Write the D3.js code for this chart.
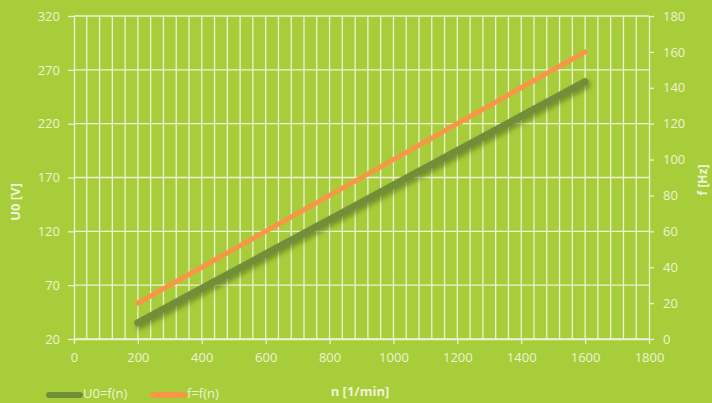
<!DOCTYPE html>
<html>
<head>
<meta charset="utf-8">
<script src="https://cdn.jsdelivr.net/npm/d3@7"></script>
<style>
html,body{margin:0;padding:0;background:#a8cd3a;}
svg{display:block;}
text{font-family:"Open Sans",sans-serif;fill:#eef3d6;}
</style>
</head>
<body>
<svg id="chart" width="712" height="403"></svg>
<script>
// Data
const speed = [200, 400, 600, 800, 1000, 1200, 1400, 1600];      // n [1/min]
const voltage = [35, 67, 99, 131, 163, 195, 227, 259];            // U0 [V]
const freq = [20, 40, 60, 80, 100, 120, 140, 160];                // f [Hz]
const xTicks = [0, 200, 400, 600, 800, 1000, 1200, 1400, 1600, 1800];
const yLeftTicks = [20, 70, 120, 170, 220, 270, 320];
const yRightTicks = [0, 20, 40, 60, 80, 100, 120, 140, 160, 180];
const seriesNames = ["U0=f(n)", "f=f(n)"];

const W = 712, H = 403;
const pL = 74, pR = 649, pT = 16, pB = 339;
const gridCol = "#eef2d4";
const greenCol = "#6f8f38", orangeCol = "#f79646";

const svg = d3.select("#chart");
svg.append("rect").attr("width", W).attr("height", H).attr("fill", "#a8cd3a");

const defs = svg.append("defs");
const flt = defs.append("filter").attr("id", "shadow").attr("x", "-10%").attr("y", "-10%").attr("width", "130%").attr("height", "130%");
flt.append("feDropShadow").attr("dx", 2).attr("dy", 3).attr("stdDeviation", 2.5).attr("flood-color", "#3d5a12").attr("flood-opacity", 0.55);

const x = d3.scaleLinear().domain([0, 1800]).range([pL, pR]);
const yL = d3.scaleLinear().domain([20, 320]).range([pB, pT]);
const yR = d3.scaleLinear().domain([0, 180]).range([pB, pT]);

// vertical minor gridlines every 40
const g = svg.append("g");
g.selectAll("line.v").data(d3.range(40, 1800, 40)).enter().append("line")
  .attr("x1", d => x(d)).attr("x2", d => x(d)).attr("y1", pT).attr("y2", pB)
  .attr("stroke", gridCol).attr("stroke-width", 1.3);
// horizontal gridlines
g.selectAll("line.h").data(yLeftTicks).enter().append("line")
  .attr("x1", pL).attr("x2", pR).attr("y1", d => yL(d)).attr("y2", d => yL(d))
  .attr("stroke", gridCol).attr("stroke-width", 1.3);

// Axes
const fmt = d3.format("d");
const axStyle = sel => {
  sel.select(".domain").attr("stroke", gridCol).attr("stroke-width", 1.3);
  sel.selectAll(".tick line").attr("stroke", gridCol).attr("stroke-width", 1.3);
  sel.selectAll(".tick text").attr("fill", "#eef3d6").style("font-family", "'Open Sans', sans-serif").style("font-size", "13px");
};
svg.append("g").attr("transform", `translate(0,${pB})`)
  .call(d3.axisBottom(x).tickValues(xTicks).tickFormat(fmt).tickSize(5).tickPadding(9).tickSizeOuter(0))
  .call(axStyle);
svg.append("g").attr("transform", `translate(${pL},0)`)
  .call(d3.axisLeft(yL).tickValues(yLeftTicks).tickFormat(fmt).tickSize(6).tickPadding(8).tickSizeOuter(0))
  .call(axStyle);
svg.append("g").attr("transform", `translate(${pR},0)`)
  .call(d3.axisRight(yR).tickValues(yRightTicks).tickFormat(fmt).tickSize(5).tickPadding(9).tickSizeOuter(0))
  .call(axStyle);

// Lines
const lineU = d3.line().x((d, i) => x(speed[i])).y(d => yL(d));
const lineF = d3.line().x((d, i) => x(speed[i])).y(d => yR(d));
svg.append("path").datum(voltage).attr("d", lineU).attr("fill", "none")
  .attr("stroke", greenCol).attr("stroke-width", 7).attr("stroke-linecap", "round")
  .attr("filter", "url(#shadow)");
svg.append("path").datum(freq).attr("d", lineF).attr("fill", "none")
  .attr("stroke", orangeCol).attr("stroke-width", 5).attr("stroke-linecap", "round");

// Axis titles
svg.append("text").attr("transform", `translate(20,202) rotate(-90)`)
  .attr("text-anchor", "middle").style("font-size", "13px").style("font-weight", "bold").text("U0 [V]");
svg.append("text").attr("transform", `translate(707,180) rotate(-90)`)
  .attr("text-anchor", "middle").style("font-size", "12px").style("font-weight", "bold").text("f [Hz]");
svg.append("text").attr("x", 360).attr("y", 396)
  .attr("text-anchor", "middle").style("font-size", "13px").style("font-weight", "bold").text("n [1/min]");

// Legend
const legend = [
  {name: seriesNames[0], color: greenCol, x0: 47},
  {name: seriesNames[1], color: orangeCol, x0: 151}
];
legend.forEach(l => {
  svg.append("line").attr("x1", l.x0 + 2).attr("x2", l.x0 + 33).attr("y1", 395).attr("y2", 395)
    .attr("stroke", l.color).attr("stroke-width", 6).attr("stroke-linecap", "round");
  svg.append("text").attr("x", l.x0 + 36).attr("y", 398).style("font-size", "13px").text(l.name);
});
</script>
</body>
</html>
